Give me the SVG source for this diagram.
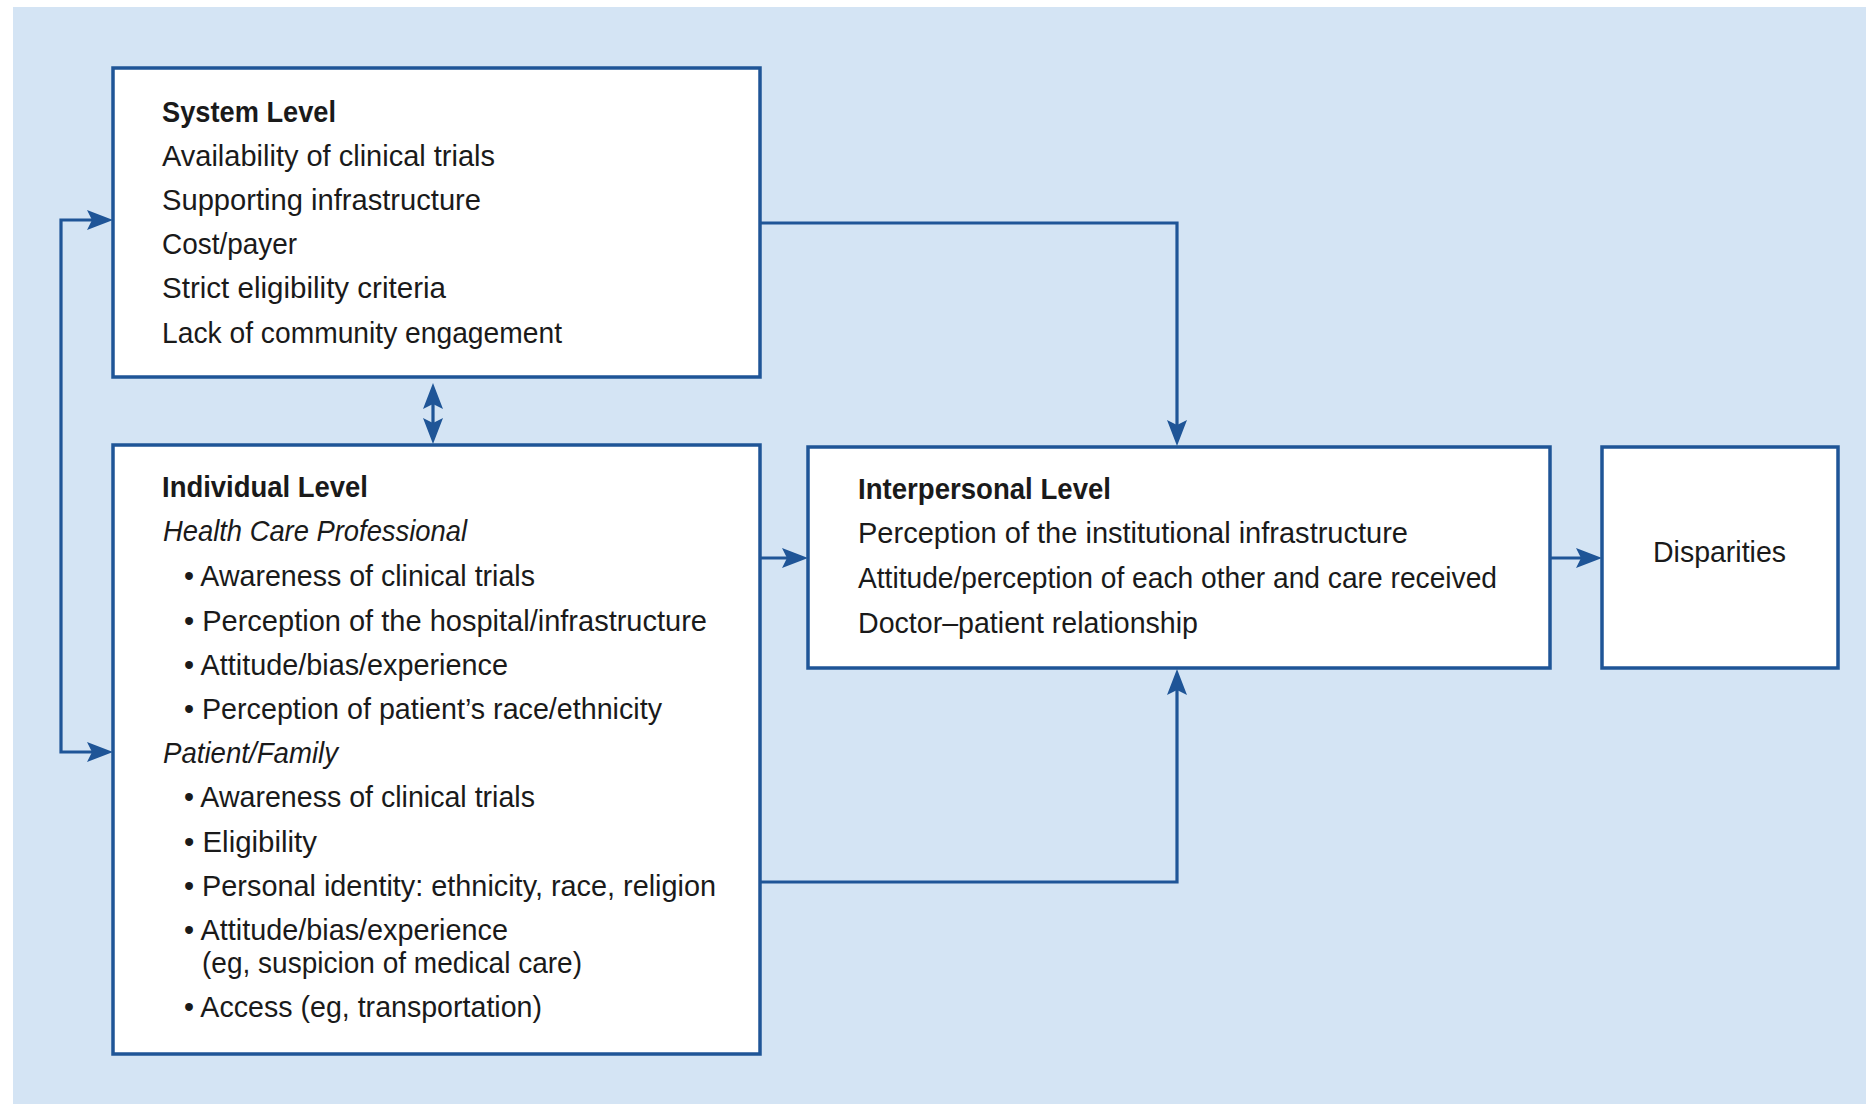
<svg xmlns="http://www.w3.org/2000/svg" width="1866" height="1104" viewBox="0 0 1866 1104">
<style>
.box{fill:#ffffff;stroke:#1f5597;stroke-width:3.5}
.ln{fill:none;stroke:#1f5597;stroke-width:3.2}
.t{font-family:"Liberation Sans",Arial,sans-serif;font-size:29px;fill:#1a1a1a}
.b{font-weight:bold}
.i{font-style:italic}
</style>
<defs>
<marker id="ah" markerUnits="userSpaceOnUse" markerWidth="26" markerHeight="21" viewBox="0 0 26 21" refX="16" refY="10.5" orient="auto-start-reverse">
<path d="M0,0.5 L26,10.5 L0,20.5 L5,10.5 Z" fill="#1f5597"/>
</marker>
</defs>
<rect x="0" y="0" width="1866" height="1104" fill="#ffffff"/>
<rect x="13" y="7" width="1853" height="1097" fill="#d4e4f4"/>

<g id="connectors">
<path class="ln" d="M760,223 H1177 V436" marker-end="url(#ah)"/>
<path class="ln" d="M760,882 H1177 V679" marker-end="url(#ah)"/>
<path class="ln" d="M760,558 H798" marker-end="url(#ah)"/>
<path class="ln" d="M1550,558 H1592" marker-end="url(#ah)"/>
<path class="ln" d="M433,393 V434" marker-start="url(#ah)" marker-end="url(#ah)"/>
<path class="ln" d="M103,220 H61 V752 H103" marker-start="url(#ah)" marker-end="url(#ah)"/>
</g>

<g id="system">
<rect class="box" x="113" y="68" width="647" height="309"/>
<text class="t b" x="162" y="122" textLength="174" lengthAdjust="spacingAndGlyphs">System Level</text>
<text class="t" x="162" y="165.5" textLength="333" lengthAdjust="spacingAndGlyphs">Availability of clinical trials</text>
<text class="t" x="162" y="209.5" textLength="319" lengthAdjust="spacingAndGlyphs">Supporting infrastructure</text>
<text class="t" x="162" y="254" textLength="135" lengthAdjust="spacingAndGlyphs">Cost/payer</text>
<text class="t" x="162" y="298" textLength="284" lengthAdjust="spacingAndGlyphs">Strict eligibility criteria</text>
<text class="t" x="162" y="342.5" textLength="400" lengthAdjust="spacingAndGlyphs">Lack of community engagement</text>
</g>

<g id="individual">
<rect class="box" x="113" y="445" width="647" height="609"/>
<text class="t b" x="162" y="497" textLength="206" lengthAdjust="spacingAndGlyphs">Individual Level</text>
<text class="t i" x="163" y="541" textLength="304" lengthAdjust="spacingAndGlyphs">Health Care Professional</text>
<text class="t" x="184" y="586" textLength="351" lengthAdjust="spacingAndGlyphs">• Awareness of clinical trials</text>
<text class="t" x="184" y="630.5" textLength="523" lengthAdjust="spacingAndGlyphs">• Perception of the hospital/infrastructure</text>
<text class="t" x="184" y="675" textLength="324" lengthAdjust="spacingAndGlyphs">• Attitude/bias/experience</text>
<text class="t" x="184" y="719" textLength="478" lengthAdjust="spacingAndGlyphs">• Perception of patient’s race/ethnicity</text>
<text class="t i" x="163" y="763" textLength="175" lengthAdjust="spacingAndGlyphs">Patient/Family</text>
<text class="t" x="184" y="807" textLength="351" lengthAdjust="spacingAndGlyphs">• Awareness of clinical trials</text>
<text class="t" x="184" y="851.5" textLength="133" lengthAdjust="spacingAndGlyphs">• Eligibility</text>
<text class="t" x="184" y="895.5" textLength="532" lengthAdjust="spacingAndGlyphs">• Personal identity: ethnicity, race, religion</text>
<text class="t" x="184" y="939.5" textLength="324" lengthAdjust="spacingAndGlyphs">• Attitude/bias/experience</text>
<text class="t" x="202" y="973" textLength="380" lengthAdjust="spacingAndGlyphs">(eg, suspicion of medical care)</text>
<text class="t" x="184" y="1016.5" textLength="358" lengthAdjust="spacingAndGlyphs">• Access (eg, transportation)</text>
</g>

<g id="interpersonal">
<rect class="box" x="808" y="447" width="742" height="221"/>
<text class="t b" x="858" y="499" textLength="253" lengthAdjust="spacingAndGlyphs">Interpersonal Level</text>
<text class="t" x="858" y="543" textLength="550" lengthAdjust="spacingAndGlyphs">Perception of the institutional infrastructure</text>
<text class="t" x="858" y="588" textLength="639" lengthAdjust="spacingAndGlyphs">Attitude/perception of each other and care received</text>
<text class="t" x="858" y="632.5" textLength="340" lengthAdjust="spacingAndGlyphs">Doctor–patient relationship</text>
</g>

<g id="disparities">
<rect class="box" x="1602" y="447" width="236" height="221"/>
<text class="t" x="1653" y="562" textLength="133" lengthAdjust="spacingAndGlyphs">Disparities</text>
</g>
</svg>
